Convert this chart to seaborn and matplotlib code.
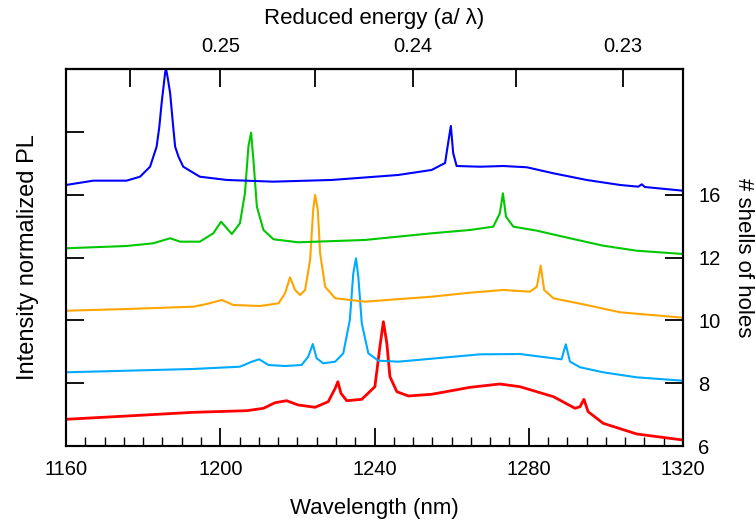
import numpy as np
import pandas as pd
import matplotlib
matplotlib.use("Agg")
import matplotlib.pyplot as plt
import seaborn as sns
from matplotlib.ticker import FixedLocator, MultipleLocator, FuncFormatter

# ---- data ----
shells = ["6", "8", "10", "12", "16"]
colors = ["#ff0000", "#00aaff", "#ffa500", "#00c800", "#0000ff"]

wl_16 = [1160.0, 1167.1, 1175.7, 1179.2, 1181.8, 1183.5, 1184.2, 1184.8, 1185.7, 1185.9,
         1186.4, 1187.0, 1187.8, 1188.3, 1189.2, 1190.4, 1194.7, 1201.7, 1213.7, 1228.9,
         1246.1, 1254.8, 1258.3, 1259.1, 1259.8, 1260.4, 1261.3, 1267.4, 1273.4, 1279.5,
         1286.4, 1295.0, 1303.7, 1308.4, 1309.3, 1310.1, 1320.0]
pl_16 = [4.154, 4.223, 4.223, 4.286, 4.445, 4.764, 5.080, 5.459, 5.937, 6.020,
         5.850, 5.618, 5.080, 4.764, 4.600, 4.445, 4.286, 4.234, 4.207, 4.234,
         4.313, 4.393, 4.504, 4.823, 5.093, 4.663, 4.456, 4.445, 4.456, 4.436,
         4.340, 4.234, 4.154, 4.127, 4.165, 4.122, 4.063]

wl_12 = [1160.0, 1175.7, 1182.6, 1187.0, 1189.6, 1194.7, 1198.2, 1200.2, 1201.7, 1203.0,
         1205.1, 1206.4, 1207.3, 1208.0, 1208.6, 1209.5, 1211.2, 1213.8, 1220.2, 1237.5,
         1254.8, 1264.8, 1270.8, 1272.5, 1273.3, 1274.1, 1276.0, 1282.1, 1290.7, 1299.3,
         1308.0, 1320.0]
pl_12 = [3.147, 3.183, 3.226, 3.306, 3.252, 3.252, 3.385, 3.570, 3.465, 3.374,
         3.544, 4.022, 4.764, 4.987, 4.552, 3.809, 3.438, 3.290, 3.242, 3.279,
         3.385, 3.438, 3.491, 3.703, 4.022, 3.650, 3.491, 3.427, 3.306, 3.188,
         3.108, 3.056]

wl_10 = [1160.0, 1175.7, 1193.0, 1196.5, 1200.4, 1203.4, 1210.3, 1215.1, 1216.8, 1218.1,
         1219.4, 1220.7, 1222.0, 1223.3, 1224.1, 1224.6, 1225.3, 1225.9, 1227.2, 1229.8,
         1237.5, 1254.8, 1264.8, 1273.4, 1280.3, 1282.1, 1283.1, 1284.0, 1286.4, 1295.0,
         1303.7, 1320.0]
pl_10 = [2.153, 2.180, 2.217, 2.260, 2.324, 2.244, 2.228, 2.271, 2.430, 2.685,
         2.483, 2.403, 2.483, 2.960, 3.756, 3.995, 3.756, 3.067, 2.535, 2.351,
         2.297, 2.376, 2.440, 2.483, 2.456, 2.535, 2.870, 2.483, 2.351, 2.244,
         2.128, 2.042]

wl_8 = [1160.0, 1175.7, 1193.0, 1205.1, 1208.2, 1210.1, 1212.5, 1216.8, 1221.1, 1222.8,
        1224.0, 1225.0, 1226.7, 1229.8, 1231.9, 1233.6, 1234.5, 1235.2, 1235.8, 1236.7,
        1238.4, 1241.0, 1246.2, 1267.4, 1277.7, 1286.4, 1288.5, 1289.6, 1290.7, 1293.3,
        1299.3, 1308.0, 1320.0]
pl_8 = [1.173, 1.198, 1.226, 1.262, 1.342, 1.380, 1.289, 1.273, 1.289, 1.421,
        1.623, 1.396, 1.316, 1.342, 1.475, 2.005, 2.749, 2.987, 2.695, 1.953,
        1.475, 1.358, 1.342, 1.459, 1.464, 1.396, 1.380, 1.619, 1.342, 1.253,
        1.173, 1.093, 1.039]

wl_6 = [1160.0, 1175.7, 1193.0, 1206.9, 1211.2, 1214.2, 1217.2, 1220.2, 1224.6, 1228.0,
        1229.8, 1230.5, 1231.3, 1232.8, 1236.7, 1240.1, 1241.4, 1242.3, 1243.2, 1244.0,
        1245.8, 1248.8, 1254.8, 1264.8, 1272.5, 1277.7, 1286.4, 1292.0, 1293.3, 1294.3,
        1295.4, 1299.3, 1308.0, 1320.0]
pl_6 = [0.425, 0.477, 0.536, 0.562, 0.600, 0.689, 0.721, 0.653, 0.616, 0.705,
        0.918, 1.023, 0.839, 0.721, 0.743, 0.944, 1.580, 1.978, 1.635, 1.103,
        0.864, 0.796, 0.823, 0.934, 0.987, 0.944, 0.785, 0.600, 0.625, 0.743,
        0.546, 0.361, 0.191, 0.095]

x_ticks = [1160, 1200, 1240, 1280, 1320]
top_ticks = [0.255, 0.25, 0.245, 0.24, 0.235, 0.23]
top_labels = [0.25, 0.24, 0.23]
right_ticks = [0, 1, 2, 3, 4]
right_labels = ["6", "8", "10", "12", "16"]
lattice_a = 300.0  # nm

frames = []
for name, wl, pl in [("6", wl_6, pl_6), ("8", wl_8, pl_8), ("10", wl_10, pl_10),
                     ("12", wl_12, pl_12), ("16", wl_16, pl_16)]:
    frames.append(pd.DataFrame({"wavelength": wl, "pl": pl, "shells": name}))
df = pd.concat(frames, ignore_index=True)

# ---- style ----
sns.set_style("white")
plt.rcParams["font.family"] = ["Liberation Sans", "DejaVu Sans"]
for k in ["text.color", "axes.labelcolor", "xtick.color", "ytick.color", "axes.edgecolor"]:
    plt.rcParams[k] = "black"
plt.rcParams["axes.linewidth"] = 1.5

TICK_FS = 14.5
LABEL_FS = 16

fig = plt.figure(figsize=(7.56, 5.27), dpi=100)
ax = fig.add_axes([66 / 756, 81 / 527, 617 / 756, 377 / 527])

sns.lineplot(data=df, x="wavelength", y="pl", hue="shells", hue_order=shells,
             palette=dict(zip(shells, colors)), estimator=None, sort=False,
             legend=False, linewidth=1.5, ax=ax)
for line, c in zip(ax.get_lines(), colors):
    if c == "#ff0000":
        line.set_linewidth(2.0)

ax.set_xlim(1160, 1320)
ax.set_ylim(0, 6)
for s in ax.spines.values():
    s.set_color("black")
    s.set_linewidth(1.5)

ax.set_xticks(x_ticks)
ax.set_xticklabels([str(t) for t in x_ticks])
ax.xaxis.set_minor_locator(MultipleLocator(5))
ax.set_yticks([1, 2, 3, 4, 5])
ax.set_yticklabels([])
ax.tick_params(axis="x", which="major", direction="in", length=13, width=1.3,
               labelsize=TICK_FS, pad=10, bottom=True, top=False)
ax.tick_params(axis="x", which="minor", direction="in", length=6.5, width=1.0,
               bottom=True, top=False)
ax.tick_params(axis="y", which="major", direction="in", length=13, width=1.3,
               left=True, right=False)
ax.set_xlabel("Wavelength (nm)", fontsize=LABEL_FS, labelpad=14)
ax.set_ylabel("Intensity normalized PL", fontsize=17, labelpad=16)

# top axis: reduced energy
sec = ax.secondary_xaxis("top", functions=(lambda x: lattice_a / x, lambda x: lattice_a / x))
sec.xaxis.set_major_locator(FixedLocator(top_ticks))
sec.xaxis.set_major_formatter(FuncFormatter(
    lambda v, p: (f"{v:.2f}" if any(abs(v - t) < 1e-6 for t in top_labels) else "")))
sec.tick_params(axis="x", direction="in", length=13, width=1.3, labelsize=TICK_FS, pad=9)
sec.set_xlabel("Reduced energy (a/ \u03bb)", fontsize=LABEL_FS, labelpad=10)
sec.spines["top"].set_linewidth(1.5)

# right axis: number of shells
ax2 = ax.twinx()
ax2.set_ylim(0, 6)
ax2.set_yticks(right_ticks)
ax2.set_yticklabels(right_labels)
ax2.tick_params(axis="y", direction="in", length=13, width=1.3, labelsize=TICK_FS, pad=11)
ax2.set_ylabel("# shells of holes", fontsize=LABEL_FS, rotation=270, labelpad=24)
ax2.grid(False)
for s in ax2.spines.values():
    s.set_linewidth(1.5)

fig.savefig("out.png", dpi=100)
